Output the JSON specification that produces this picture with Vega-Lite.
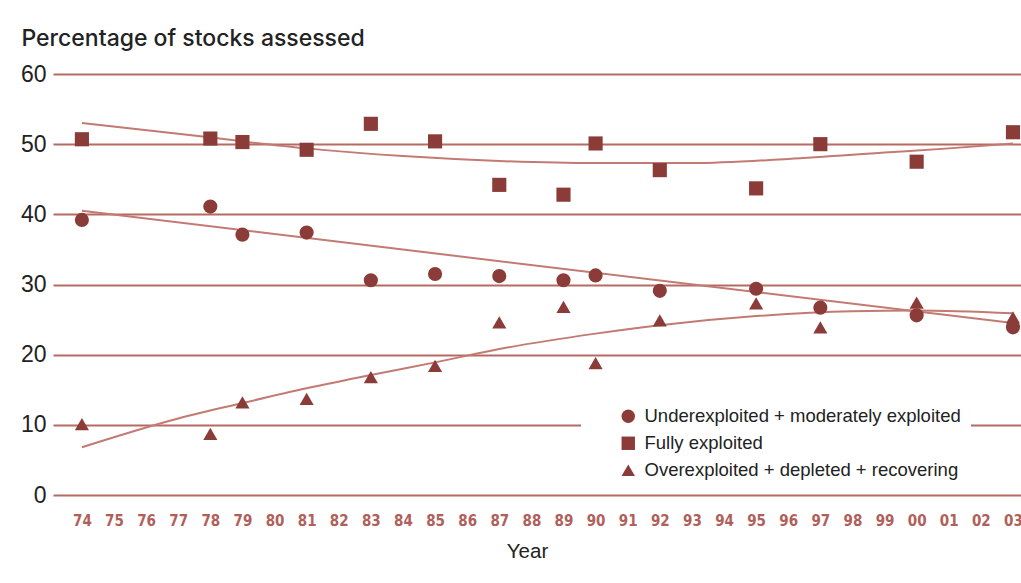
{
  "$schema": "https://vega.github.io/schema/vega-lite/v6.json",
  "autosize": {"type": "none"},
  "padding": {"left": 53, "top": 74, "right": 0, "bottom": 88},
  "width": 968,
  "height": 421,
  "background": "white",
  "config": {
    "view": {"stroke": null},
    "font": "Liberation Sans"
  },
  "datasets": {
    "points": [
      {"year": 1974, "series": "Fully exploited", "value": 50.7},
      {"year": 1978, "series": "Fully exploited", "value": 50.8},
      {"year": 1979, "series": "Fully exploited", "value": 50.3},
      {"year": 1981, "series": "Fully exploited", "value": 49.2},
      {"year": 1983, "series": "Fully exploited", "value": 52.9},
      {"year": 1985, "series": "Fully exploited", "value": 50.4},
      {"year": 1987, "series": "Fully exploited", "value": 44.2},
      {"year": 1989, "series": "Fully exploited", "value": 42.8},
      {"year": 1990, "series": "Fully exploited", "value": 50.1},
      {"year": 1992, "series": "Fully exploited", "value": 46.3},
      {"year": 1995, "series": "Fully exploited", "value": 43.7},
      {"year": 1997, "series": "Fully exploited", "value": 50.0},
      {"year": 2000, "series": "Fully exploited", "value": 47.5},
      {"year": 2003, "series": "Fully exploited", "value": 51.7},
      {"year": 1974, "series": "Underexploited + moderately exploited", "value": 39.2},
      {"year": 1978, "series": "Underexploited + moderately exploited", "value": 41.1},
      {"year": 1979, "series": "Underexploited + moderately exploited", "value": 37.1},
      {"year": 1981, "series": "Underexploited + moderately exploited", "value": 37.4},
      {"year": 1983, "series": "Underexploited + moderately exploited", "value": 30.6},
      {"year": 1985, "series": "Underexploited + moderately exploited", "value": 31.5},
      {"year": 1987, "series": "Underexploited + moderately exploited", "value": 31.2},
      {"year": 1989, "series": "Underexploited + moderately exploited", "value": 30.6},
      {"year": 1990, "series": "Underexploited + moderately exploited", "value": 31.3},
      {"year": 1992, "series": "Underexploited + moderately exploited", "value": 29.1},
      {"year": 1995, "series": "Underexploited + moderately exploited", "value": 29.4},
      {"year": 1997, "series": "Underexploited + moderately exploited", "value": 26.7},
      {"year": 2000, "series": "Underexploited + moderately exploited", "value": 25.6},
      {"year": 2003, "series": "Underexploited + moderately exploited", "value": 23.9},
      {"year": 1974, "series": "Overexploited + depleted + recovering", "value": 10.1},
      {"year": 1978, "series": "Overexploited + depleted + recovering", "value": 8.7},
      {"year": 1979, "series": "Overexploited + depleted + recovering", "value": 13.2},
      {"year": 1981, "series": "Overexploited + depleted + recovering", "value": 13.7},
      {"year": 1983, "series": "Overexploited + depleted + recovering", "value": 16.8},
      {"year": 1985, "series": "Overexploited + depleted + recovering", "value": 18.4},
      {"year": 1987, "series": "Overexploited + depleted + recovering", "value": 24.6},
      {"year": 1989, "series": "Overexploited + depleted + recovering", "value": 26.8},
      {"year": 1990, "series": "Overexploited + depleted + recovering", "value": 18.8},
      {"year": 1992, "series": "Overexploited + depleted + recovering", "value": 24.9},
      {"year": 1995, "series": "Overexploited + depleted + recovering", "value": 27.3},
      {"year": 1997, "series": "Overexploited + depleted + recovering", "value": 23.9},
      {"year": 2000, "series": "Overexploited + depleted + recovering", "value": 27.4},
      {"year": 2003, "series": "Overexploited + depleted + recovering", "value": 25.3}
    ],
    "trend": [
      {"year": 1974, "series": "Fully exploited", "value": 53.0},
      {"year": 1977, "series": "Fully exploited", "value": 51.5},
      {"year": 1979, "series": "Fully exploited", "value": 50.4},
      {"year": 1981, "series": "Fully exploited", "value": 49.4},
      {"year": 1984, "series": "Fully exploited", "value": 48.3},
      {"year": 1987, "series": "Fully exploited", "value": 47.6},
      {"year": 1990, "series": "Fully exploited", "value": 47.3},
      {"year": 1993, "series": "Fully exploited", "value": 47.3},
      {"year": 1996, "series": "Fully exploited", "value": 47.9},
      {"year": 1999, "series": "Fully exploited", "value": 48.8},
      {"year": 2001, "series": "Fully exploited", "value": 49.4},
      {"year": 2003, "series": "Fully exploited", "value": 50.1},
      {"year": 1974, "series": "Underexploited + moderately exploited", "value": 40.5},
      {"year": 2003, "series": "Underexploited + moderately exploited", "value": 24.5},
      {"year": 1974, "series": "Overexploited + depleted + recovering", "value": 6.8},
      {"year": 1977, "series": "Overexploited + depleted + recovering", "value": 10.9},
      {"year": 1979, "series": "Overexploited + depleted + recovering", "value": 13.1},
      {"year": 1981, "series": "Overexploited + depleted + recovering", "value": 15.2},
      {"year": 1983, "series": "Overexploited + depleted + recovering", "value": 17.1},
      {"year": 1985, "series": "Overexploited + depleted + recovering", "value": 18.9},
      {"year": 1987, "series": "Overexploited + depleted + recovering", "value": 20.8},
      {"year": 1990, "series": "Overexploited + depleted + recovering", "value": 23.0},
      {"year": 1992, "series": "Overexploited + depleted + recovering", "value": 24.2},
      {"year": 1995, "series": "Overexploited + depleted + recovering", "value": 25.5},
      {"year": 1998, "series": "Overexploited + depleted + recovering", "value": 26.2},
      {"year": 2000, "series": "Overexploited + depleted + recovering", "value": 26.3},
      {"year": 2003, "series": "Overexploited + depleted + recovering", "value": 25.9}
    ]
  },
  "encoding": {
    "x": {"field": "year", "type": "quantitative", "scale": {"domain": [1973.1, 2003.25], "nice": false, "zero": false},
      "axis": {
        "values": [1974,1975,1976,1977,1978,1979,1980,1981,1982,1983,1984,1985,1986,1987,1988,1989,1990,1991,1992,1993,1994,1995,1996,1997,1998,1999,2000,2001,2002,2003],
        "labelExpr": "substring(toString(datum.value), 2)",
        "domain": false, "ticks": false, "grid": false,
        "labelFont": "DejaVu Sans Condensed", "labelFontWeight": "bold", "labelFontSize": 15,
        "labelColor": "#b0605a", "labelPadding": 18, "labelFlush": false, "labelOverlap": false, "labelSeparation": 0, "labelBound": false,
        "title": "Year", "titleFontSize": 20.5, "titleFontWeight": "normal", "titleColor": "#222222",
        "titleX": 474, "titleY": 62, "titleAlign": "center", "titleBaseline": "alphabetic"
      }},
    "y": {"field": "value", "type": "quantitative", "scale": {"domain": [0, 60], "nice": false},
      "axis": {
        "values": [0,10,20,30,40,50,60],
        "domain": false, "ticks": false,
        "grid": true, "gridColor": "#b56a64", "gridWidth": 2, "gridOpacity": 1,
        "labelFontSize": 23, "labelColor": "#222222", "labelPadding": 7,
        "title": "Percentage of stocks assessed", "titleAngle": 0, "titleAlign": "left",
        "titleBaseline": "alphabetic", "titleX": -32, "titleY": -29,
        "titleFont": "Inter", "titleFontSize": 23, "titleFontWeight": 500, "titleColor": "#222222"
      }}
  },
  "layer": [
    {
      "data": {"name": "trend"},
      "mark": {"type": "line", "color": "#c27a73", "strokeWidth": 2, "interpolate": "monotone"},
      "encoding": {
        "detail": {"field": "series", "type": "nominal"}
      }
    },
    {
      "data": {"name": "points"},
      "mark": {"type": "point", "filled": true, "color": "#8c3c38", "opacity": 1, "size": 200},
      "encoding": {
        "shape": {
          "field": "series", "type": "nominal",
          "scale": {
            "domain": ["Underexploited + moderately exploited", "Fully exploited", "Overexploited + depleted + recovering"],
            "range": ["circle", "square", "triangle-up"]
          },
          "legend": {
            "title": null, "orient": "none", "legendX": 528, "legendY": 323,
            "fillColor": "white", "padding": 10, "symbolOffset": 28,
            "symbolFillColor": "#8c3c38", "symbolStrokeWidth": 0, "symbolSize": 180,
            "labelFontSize": 18.5, "labelColor": "#222222", "labelOffset": 7, "labelLimit": 400,
            "rowPadding": 8
          }
        }
      }
    }
  ]
}
